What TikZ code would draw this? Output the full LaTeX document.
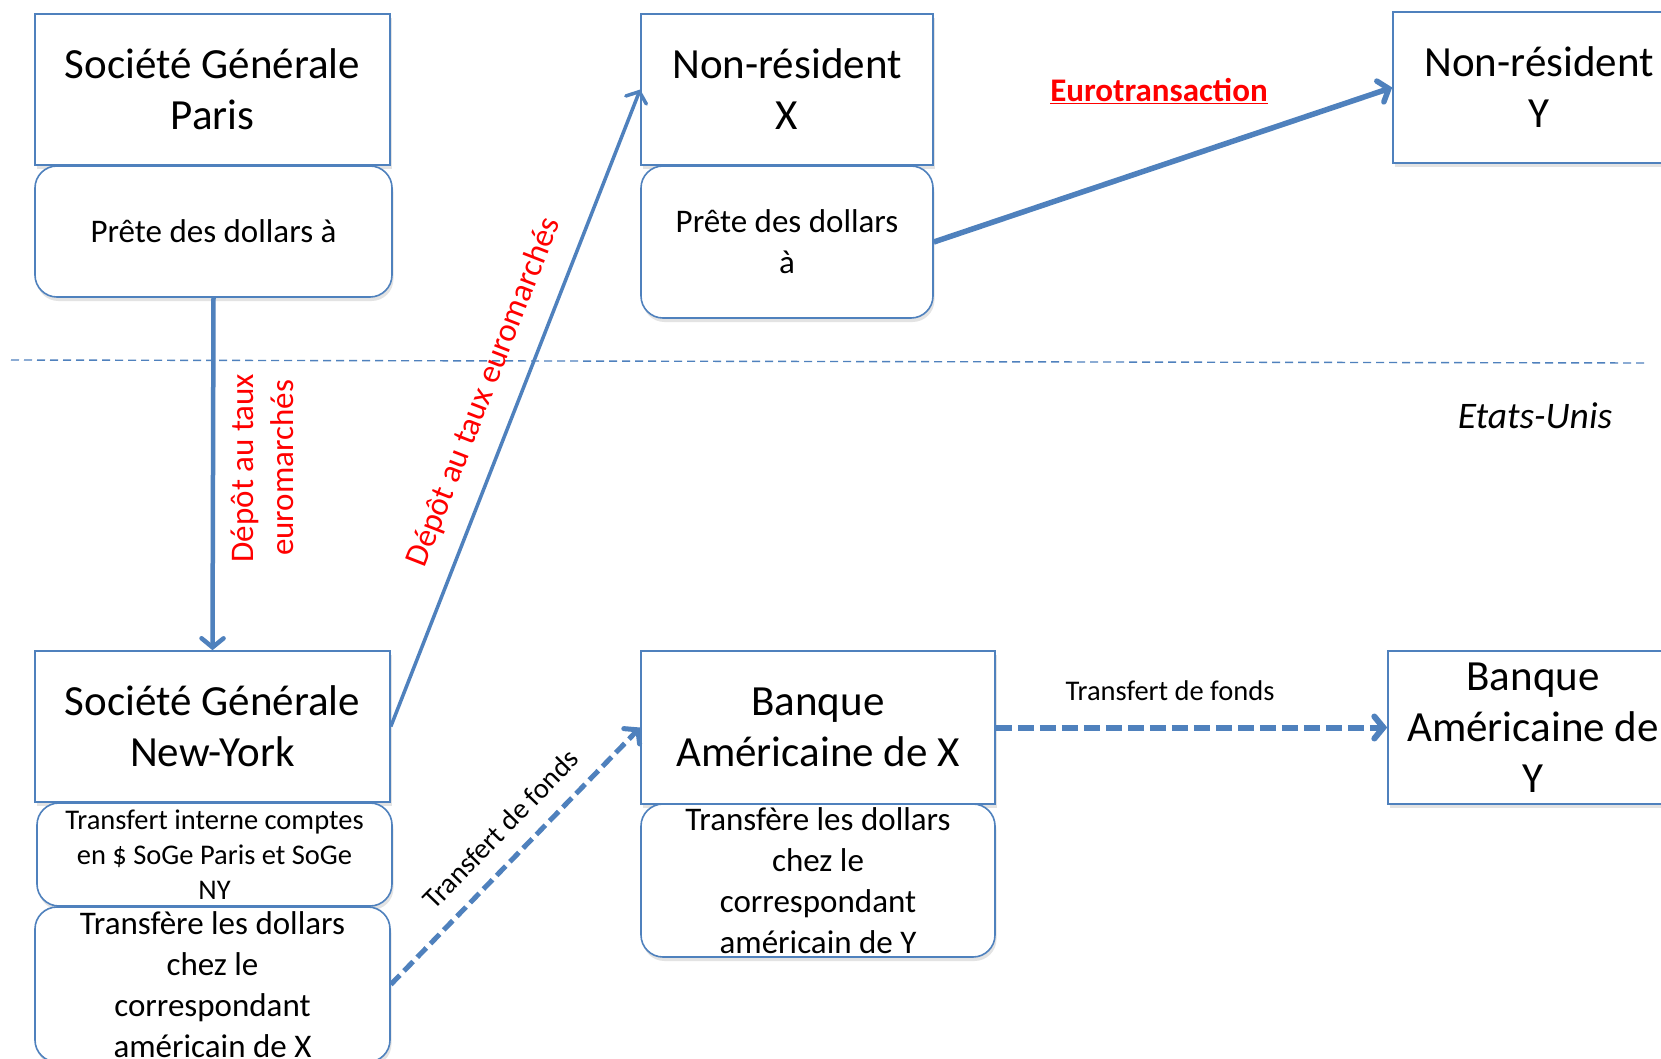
\documentclass[tikz,border=0pt]{standalone}
\usepackage{fontspec}
\setmainfont{Carlito}
\usetikzlibrary{arrows.meta,shadows}
\definecolor{bb}{HTML}{4F81BD}
\definecolor{rd}{HTML}{FF0000}
\tikzset{
  shad/.style={drop shadow={shadow xshift=1.5pt,shadow yshift=-4pt,opacity=0.18,fill=black!60}},
  sq/.style={draw=bb,line width=1.6pt,fill=white,align=center,inner sep=0pt,shad},
  rnd/.style={sq,rounded corners=22pt},
  big/.style={font=\fontsize{43}{51}\selectfont},
  med/.style={font=\fontsize{33}{41}\selectfont},
  sml/.style={font=\fontsize{28.5}{35}\selectfont},
  arr/.style={draw=bb,line width=4.5pt,-{Straight Barb[length=9pt,width=22pt,line cap=round]}},
  darr/.style={arr,line width=5pt,dash pattern=on 13pt off 6pt},
  redlab/.style={text=rd,font=\fontsize{33}{40}\selectfont,align=center,inner sep=0pt},
  blab/.style={font=\fontsize{28.5}{35}\selectfont,inner sep=0pt}
}
\begin{document}
\begin{tikzpicture}[x=1pt,y=-1pt]
\clip (0,0) rectangle (1661,1058);
\fill[white] (0,0) rectangle (1661,1058);
% divider
\draw[bb,line width=1.4pt,dash pattern=on 8pt off 5pt] (11,360) -- (1647,363);
\node[inner sep=0pt] (eu) at (1535,416) {\itshape\fontsize{37.5}{40}\selectfont Etats-Unis};
% top row
\node[sq,big,minimum width=355pt,minimum height=151pt] (sgp) at (212.5,89.5) {Société Générale\\Paris};
\node[rnd,med,minimum width=357pt,minimum height=131pt] (sgpr) at (213.5,231.5) {Prête des dollars à};
\node[sq,big,minimum width=292pt,minimum height=151pt] (nrx) at (787,89.5) {Non-résident\\X};
\node[rnd,med,minimum width=292pt,minimum height=152pt] (nrxr) at (787,242) {Prête des dollars\\à};
\node[sq,big,minimum width=292pt,minimum height=151pt] (nry) at (1539,87.5) {Non-résident\\Y};
% bottom row
\node[sq,big,minimum width=355pt,minimum height=151pt] (sgny) at (212.5,726.5) {Société Générale\\New-York};
\node[rnd,sml,minimum width=355pt,minimum height=103pt] (ti) at (214.5,854.5) {Transfert interne comptes\\en \$ SoGe Paris et SoGe\\NY};
\node[rnd,med,minimum width=355pt,minimum height=155pt] (tx) at (212.5,984.5) {Transfère les dollars\\chez le\\correspondant\\américain de X};
\node[sq,big,minimum width=354pt,minimum height=153pt] (bx) at (818,727.5) {Banque\\Américaine de X};
\node[rnd,med,minimum width=354pt,minimum height=153pt] (ty) at (818,880.5) {Transfère les dollars\\chez le\\correspondant\\américain de Y};
\node[sq,big,minimum width=290pt,minimum height=153pt] (by) at (1533,727.5) {Banque\\Américaine de\\Y};
% connectors
\draw[arr] (sgpr.south) -- (sgny.north);
\node[redlab,rotate=90] (l1) at (262,468) {Dépôt au taux\\euromarchés};
\draw[arr,line width=3.5pt] (sgny.east) -- (nrx.west) node[pos=0.505,sloped,above=19pt,redlab] (l2) {Dépôt au taux euromarchés};
\draw[arr,line width=5.5pt] (nrxr.east) -- (nry.west);
\node[redlab,font=\fontsize{33}{40}\selectfont\bfseries] (l3) at (1159,91) {\underline{Eurotransaction}};
\draw[darr] (tx.east) -- (bx.west) node[pos=0.525,sloped,above=17pt,blab] (l4) {Transfert de fonds};
\draw[darr,line width=6pt,dash pattern=on 16pt off 6pt] (bx.east) -- (by.west);
\node[blab] (l5) at (1170,691) {Transfert de fonds};
\end{tikzpicture}
\end{document}
